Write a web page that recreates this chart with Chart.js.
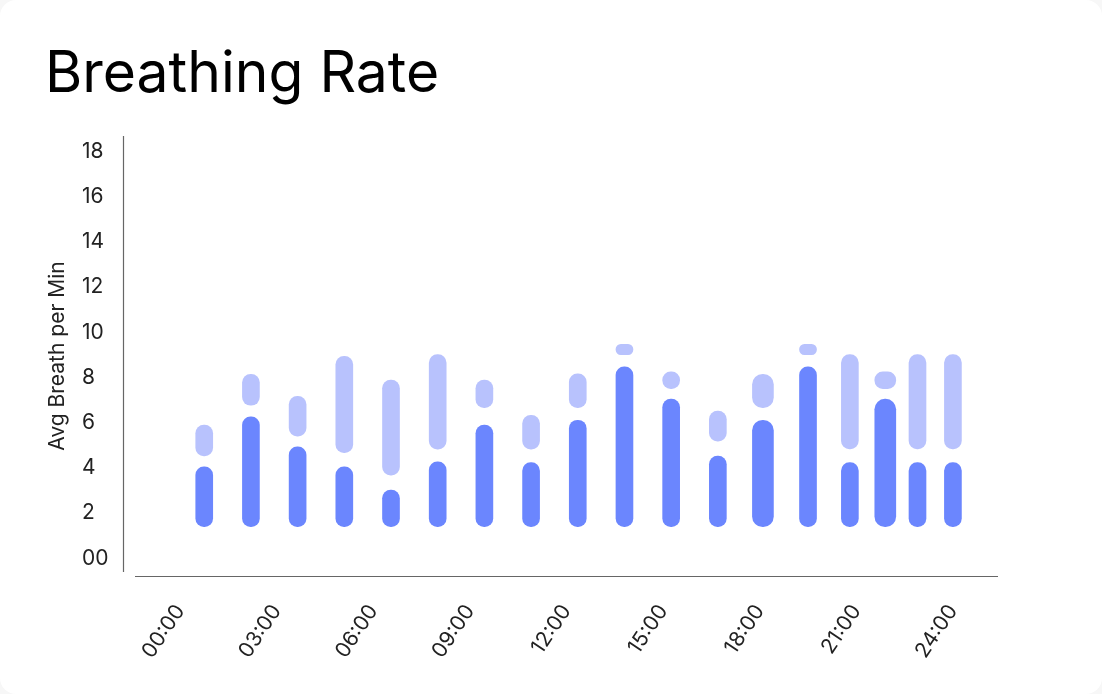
<!DOCTYPE html>
<html>
<head>
<meta charset="utf-8">
<title>Breathing Rate</title>
<script src="https://cdn.jsdelivr.net/npm/chart.js@4.4.1/dist/chart.umd.min.js"></script>
<style>
    html, body { margin: 0; padding: 0; background: #f7f7f7; }
    .card { width: 1102px; height: 694px; background: #fff; border-radius: 16px; overflow: hidden; }
    canvas { display: block; }
</style>
</head>
<body>
<div class="card"><canvas id="breathingChart" width="1102" height="694"></canvas></div>
<script>
// Axis ticks
const hourTicks = [0, 3, 6, 9, 12, 15, 18, 21, 24];
const rateTicks = [0, 2, 4, 6, 8, 10, 12, 14, 16, 18];

// Time of each reading (hours)
const sampleHours = [0.75, 2.2, 3.65, 5.1, 6.55, 8.0, 9.45, 10.9, 12.35, 13.8, 15.25, 16.7, 18.1, 19.5, 20.8, 21.9, 22.9, 24.0];

// Resting range (dark bars)
const restLow  = [1.4, 1.4, 1.4, 1.4, 1.4, 1.4, 1.4, 1.4, 1.4, 1.4, 1.4, 1.4, 1.4, 1.4, 1.4, 1.4, 1.4, 1.4];
const restHigh = [4.05, 6.26, 4.93, 4.05, 3.02, 4.27, 5.89, 4.24, 6.11, 8.47, 7.04, 4.52, 6.11, 8.47, 4.24, 7.04, 4.24, 4.24];

// Peak range (light bars)
const peakLow  = [4.53, 6.77, 5.40, 4.68, 3.68, 4.83, 6.66, 4.83, 6.66, 9.01, 7.51, 5.18, 6.66, 9.01, 4.84, 7.51, 4.84, 4.84];
const peakHigh = [5.89, 8.14, 7.17, 8.94, 7.88, 9.01, 7.88, 6.33, 8.16, 9.47, 8.25, 6.51, 8.14, 9.47, 9.01, 8.25, 9.01, 9.01];

// a couple of readings are drawn thicker
const WIDE = new Set([12, 15]);
const FONT = 'Inter, "Noto Sans", sans-serif';
const DARK = '#6b86fe';
const LIGHT = '#b8c2fd';

function points(lo, hi, wide) {
    return sampleHours
        .map((h, i) => ({ x: h, y: [lo[i], hi[i]], i }))
        .filter(p => WIDE.has(p.i) === wide);
}

function barSet(lo, hi, wide, color) {
    return {
        data: points(lo, hi, wide),
        backgroundColor: color,
        barThickness: wide ? 21 : 17,
        borderRadius: 20,
        borderSkipped: false,
        grouped: false
    };
}

// thin axis lines, drawn apart like the design
const axisLines = {
    id: 'axisLines',
    beforeDatasetsDraw(chart) {
        const { ctx, chartArea: a } = chart;
        ctx.save();
        ctx.strokeStyle = '#666';
        ctx.lineWidth = 1.2;
        ctx.beginPath();
        ctx.moveTo(a.left - 11.5, a.top);
        ctx.lineTo(a.left - 11.5, a.bottom - 4);
        ctx.moveTo(a.left, a.bottom + 0.5);
        ctx.lineTo(a.right, a.bottom + 0.5);
        ctx.stroke();
        ctx.restore();
    }
};

const ctx = document.getElementById('breathingChart').getContext('2d');
new Chart(ctx, {
    type: 'bar',
    data: {
        datasets: [
            barSet(restLow, restHigh, false, DARK),
            barSet(restLow, restHigh, true, DARK),
            barSet(peakLow, peakHigh, false, LIGHT),
            barSet(peakLow, peakHigh, true, LIGHT)
        ]
    },
    options: {
        responsive: false,
        animation: false,
        layout: { padding: { top: 41, left: 45, right: 104, bottom: 0 } },
        plugins: {
            legend: { display: false },
            tooltip: { enabled: false },
            title: {
                display: true,
                text: 'Breathing Rate',
                align: 'start',
                color: '#000',
                font: { family: FONT, size: 57, weight: 400 },
                padding: { top: 0, bottom: 26.6 }
            }
        },
        scales: {
            x: {
                type: 'linear',
                min: -1.4,
                max: 25.4,
                offset: false,
                grid: { display: false, drawTicks: false },
                border: { display: false },
                afterBuildTicks: s => { s.ticks = hourTicks.map(v => ({ value: v })); },
                afterFit: s => { s.height = 118; },
                ticks: {
                    autoSkip: false,
                    minRotation: 56,
                    maxRotation: 56,
                    padding: 24,
                    color: '#222',
                    font: { family: FONT, size: 21 },
                    callback: v => String(v).padStart(2, '0') + ':00'
                }
            },
            y: {
                type: 'linear',
                position: 'left',
                min: -0.78,
                max: 18.68,
                grid: { display: false, drawTicks: false },
                border: { display: false },
                afterBuildTicks: s => { s.ticks = rateTicks.map(v => ({ value: v })); },
                afterFit: s => { s.width = 53; },
                ticks: {
                    crossAlign: 'far',
                    color: '#222',
                    font: { family: FONT, size: 21 },
                    callback: v => v === 0 ? '00' : String(v)
                }
            },
            yTitle: {
                type: 'linear',
                position: 'left',
                weight: 1,
                grid: { display: false, drawTicks: false },
                border: { display: false },
                ticks: { display: false },
                afterFit: s => { s.width = 37; },
                title: {
                    display: true,
                    text: 'Avg Breath per Min',
                    color: '#222',
                    font: { family: FONT, size: 21 },
                    padding: 0
                }
            }
        }
    },
    plugins: [axisLines]
});
</script>
</body>
</html>
